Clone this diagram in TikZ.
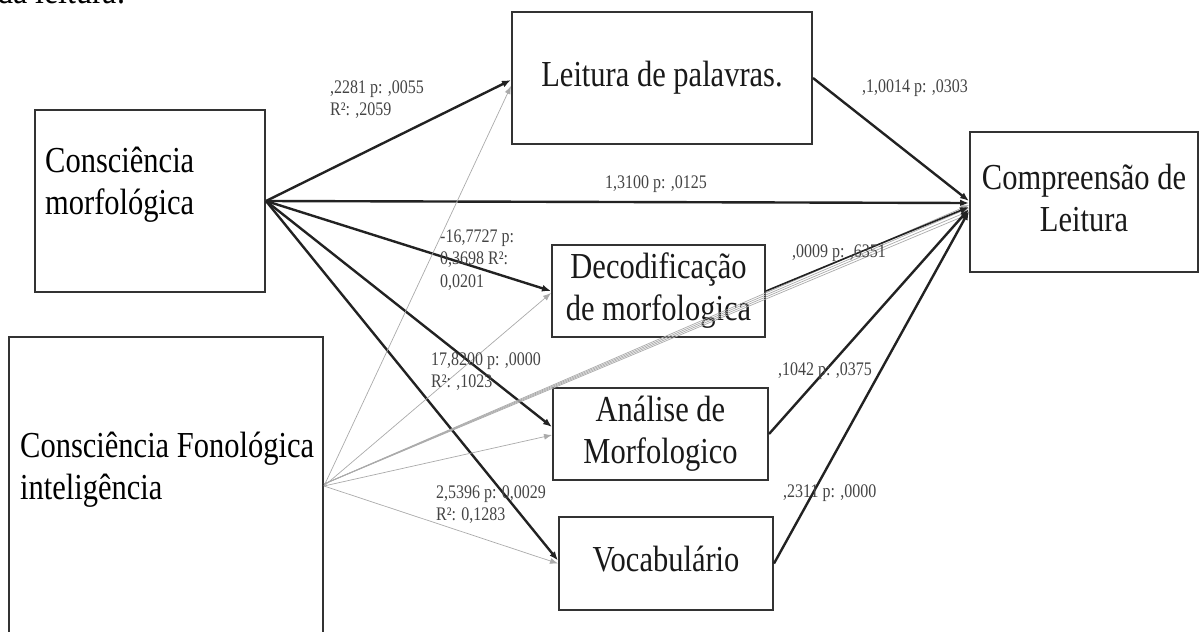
\documentclass[tikz,border=0pt]{standalone}
\usepackage{fontspec}
\setmainfont{Liberation Serif}
\usepackage{graphicx}
\usetikzlibrary{arrows.meta}

\definecolor{boxline}{HTML}{333333}
\definecolor{pathdark}{HTML}{222222}
\definecolor{pathgray}{HTML}{AAAAAA}
\definecolor{coeftext}{HTML}{444444}

\newcommand{\bigtext}[2][c]{\scalebox{1}[1.2]{\fontsize{30.5}{35}\selectfont\begin{tabular}[t]{@{}#1@{}}#2\end{tabular}}}
\newcommand{\coef}[1]{\scalebox{1}[1.2]{\fontsize{16}{19}\selectfont\begin{tabular}[t]{@{}l@{}}#1\end{tabular}}}

\begin{document}
\begin{tikzpicture}[x=1pt, y=-1pt,
    box/.style={draw=boxline, line width=2pt, inner sep=0pt, text=black!90},
    strong/.style={draw=pathdark, line width=2.4pt, -{Latex[length=9pt,width=7pt]}},
    weak/.style={draw=pathgray, line width=0.7pt, -{Latex[length=8pt,width=6pt]}},
    coefnode/.style={anchor=base west, inner sep=0pt, text=coeftext}]
  \useasboundingbox (0,0) rectangle (1200,632);

  % Line of the page above the figure
  \node[anchor=base west, inner sep=0pt] (pageline) at (-3,3)
    {\scalebox{1}[1.2]{\fontsize{32}{38}\selectfont da leitura.}};

  % Predictors
  \node[box, minimum width=230, minimum height=182] (cm) at (150,201) {};
  \node[anchor=base west, inner sep=0pt] (cmtext) at (45,172)
    {\bigtext[l]{Consciência\\morfológica}};

  \node[box, minimum width=314, minimum height=298] (cf) at (166,486) {};
  \node[anchor=base west, inner sep=0pt] (cftext) at (20,457)
    {\bigtext[l]{Consciência Fonológica\\inteligência}};

  % Mediators
  \node[box, minimum width=300, minimum height=132] (lp) at (662,78)
    {\bigtext{Leitura de palavras.}};
  \node[box, minimum width=213, minimum height=92] (dec) at (658.5,291)
    {\bigtext{Decodificação\\de morfologica}};
  \node[box, minimum width=215, minimum height=92] (an) at (660.5,434)
    {\bigtext{Análise de\\Morfologico}};
  \node[box, minimum width=214, minimum height=93] (voc) at (666,563.5)
    {\bigtext{Vocabulário}};

  % Outcome
  \node[box, minimum width=228, minimum height=140] (comp) at (1084,202)
    {\bigtext{Compreensão de\\Leitura}};

  % Paths from Consciência morfológica
  \draw[strong] (cm.east) -- ([yshift=-2pt]lp.west);
  \draw[strong] (cm.east) -- ([yshift=-1pt]comp.west);
  \draw[strong] (cm.east) -- (dec.west);
  \draw[strong] (cm.east) -- ([yshift=7pt]an.west);
  \draw[strong] (cm.east) -- ([yshift=3pt]voc.west);

  % Control paths from Consciência Fonológica
  \draw[weak] (cf.east) -- ([yshift=-8pt]lp.west);
  \draw[weak] (cf.east) -- ([yshift=-2pt]dec.west);
  \draw[weak] (cf.east) -- ([yshift=-1pt]an.west);
  \draw[weak] (cf.east) -- (voc.west);
  \foreach \s in {-3,-6,-9,-12}
    \draw[weak] ([yshift=2pt]cf.east) -- ([yshift=\s pt]comp.west);

  % Paths into Compreensão de Leitura
  \draw[strong] (lp.east) -- ([yshift=1pt]comp.west);
  \draw[strong, line width=1.6pt] (dec.east) -- ([yshift=-5pt]comp.west);
  \draw[strong] (an.east) -- ([yshift=-7pt]comp.west);
  \draw[strong] (voc.east) -- ([yshift=-9pt]comp.west);

  % Coefficients
  \node[coefnode] (c1) at (330,93) {\coef{,2281 p: ,0055\\R²: ,2059}};
  \node[coefnode] (c2) at (862,92) {\coef{,1,0014 p: ,0303}};
  \node[coefnode] (c3) at (605,188) {\coef{1,3100 p: ,0125}};
  \node[coefnode] (c4) at (440,242) {\coef{-16,7727 p:\\0,3698 R²:\\0,0201}};
  \node[coefnode] (c5) at (792,257) {\coef{,0009 p: ,6351}};
  \node[coefnode] (c6) at (431,365) {\coef{17,8200 p: ,0000\\R²: ,1023}};
  \node[coefnode] (c7) at (778,375) {\coef{,1042 p: ,0375}};
  \node[coefnode] (c8) at (783,497) {\coef{,2311 p: ,0000}};
  \node[coefnode] (c9) at (436,498) {\coef{2,5396 p: 0,0029\\R²: 0,1283}};
\end{tikzpicture}
\end{document}
